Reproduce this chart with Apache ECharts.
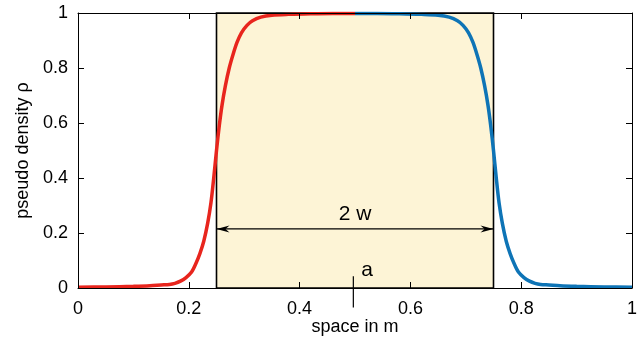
<!DOCTYPE html>
<html>
<head>
<meta charset="utf-8">
<script src="https://cdn.jsdelivr.net/npm/echarts@6/dist/echarts.min.js"></script>
<style>html,body{margin:0;padding:0;background:#fff}#c{width:637px;height:338px}</style>
</head>
<body>
<div id="c"></div>
<script>
// ---- data ----
var redX  = [0, 0.05, 0.1, 0.13, 0.15, 0.165, 0.175, 0.185, 0.195, 0.205, 0.213, 0.22, 0.227, 0.234, 0.24, 0.245, 0.25, 0.255, 0.26, 0.266, 0.273, 0.28, 0.287, 0.295, 0.305, 0.315, 0.33, 0.35, 0.38, 0.42, 0.46, 0.5];
var redY  = [0.003, 0.004, 0.006, 0.008, 0.011, 0.013, 0.017, 0.025, 0.038, 0.058, 0.09, 0.125, 0.17, 0.235, 0.31, 0.4, 0.5, 0.59, 0.665, 0.735, 0.8, 0.85, 0.893, 0.928, 0.955, 0.972, 0.985, 0.992, 0.995, 0.997, 0.998, 0.998];
var blueX = [0.5, 0.54, 0.58, 0.62, 0.65, 0.67, 0.685, 0.695, 0.705, 0.713, 0.72, 0.727, 0.734, 0.74, 0.745, 0.75, 0.755, 0.76, 0.766, 0.773, 0.78, 0.787, 0.795, 0.805, 0.815, 0.825, 0.835, 0.85, 0.87, 0.9, 0.95, 1];
var blueY = [0.998, 0.998, 0.997, 0.995, 0.992, 0.985, 0.972, 0.955, 0.928, 0.893, 0.85, 0.8, 0.735, 0.665, 0.59, 0.5, 0.4, 0.31, 0.235, 0.17, 0.125, 0.09, 0.058, 0.038, 0.025, 0.017, 0.013, 0.011, 0.008, 0.006, 0.004, 0.003];
var boxRange   = [0.25, 0.75];      // x extent of the shaded region
var boxHeight  = [0, 1];            // y extent of the shaded region
var arrowLevel = 0.215;             // y of the "2 w" arrow
var arrowLabel = '2 w';
var arrowLabelY = 0.268;
var markerX    = 0.497;             // position of "a"
var markerSpan = [0.043, -0.071];
var markerLabel = 'a';
var markerLabelY = 0.064;
var xTicks = [0, 0.2, 0.4, 0.6, 0.8, 1];
var yTicks = [0, 0.2, 0.4, 0.6, 0.8, 1];
var xName = 'space in m';
var yName = 'pseudo density \u03c1';

function zip(a, b) { return a.map(function (v, i) { return [v, b[i]]; }); }

var FONT = '"Liberation Sans", Arial, Helvetica, sans-serif';
var chart = echarts.init(document.getElementById('c'), null, {renderer: 'canvas'});

function axisCommon(extra) {
  var o = {
    type: 'value', min: 0, max: 1, interval: 0.2, z: 10,
    axisLine: {show: true, onZero: false, lineStyle: {color: '#000', width: 1}},
    axisTick: {show: true, inside: true, length: 6, lineStyle: {color: '#000', width: 1}},
    splitLine: {show: false},
    axisLabel: {show: false}
  };
  for (var k in extra) o[k] = extra[k];
  return o;
}

chart.setOption({
  animation: false,
  backgroundColor: '#fff',
  textStyle: {fontFamily: FONT},
  grid: {left: 78, right: 5, top: 13, bottom: 50, containLabel: false, outerBoundsMode: 'none'},
  xAxis: [
    axisCommon({position: 'bottom', name: xName, nameLocation: 'middle', nameGap: 30, nameMoveOverlap: false,
      nameTextStyle: {fontSize: 18, color: '#000', fontFamily: FONT},
      axisLabel: {show: true, margin: 12, fontSize: 18, color: '#000', fontFamily: FONT,
        formatter: function (v) { var i = xTicks.indexOf(Math.round(v * 10) / 10); return i >= 0 ? String(xTicks[i]) : ''; }}}),
    axisCommon({position: 'top'})
  ],
  yAxis: [
    axisCommon({position: 'left', name: yName, nameLocation: 'middle', nameGap: 46, nameMoveOverlap: false,
      nameTextStyle: {fontSize: 18, color: '#000', fontFamily: FONT},
      axisLabel: {show: true, margin: 10, fontSize: 18, color: '#000', fontFamily: FONT,
        formatter: function (v) { var i = yTicks.indexOf(Math.round(v * 10) / 10); return i >= 0 ? String(yTicks[i]) : ''; }}}),
    axisCommon({position: 'right'})
  ],
  series: [
    {
      type: 'custom', z: 1, silent: true,
      data: [[boxRange[0], boxHeight[0], boxRange[1], boxHeight[1]]],
      renderItem: function (params, api) {
        var p0 = api.coord([api.value(0), api.value(3)]);
        var p1 = api.coord([api.value(2), api.value(1)]);
        return {type: 'rect', shape: {x: p0[0], y: p0[1], width: p1[0] - p0[0], height: p1[1] - p0[1]},
          style: {fill: '#fdf4d6', stroke: '#000', lineWidth: 1.6}};
      }
    },
    {
      type: 'line', z: 5, data: zip(redX, redY), showSymbol: false, smooth: 0.3,
      lineStyle: {color: '#e8251d', width: 3.5}, itemStyle: {color: '#e8251d'}
    },
    {
      type: 'line', z: 5, data: zip(blueX, blueY), showSymbol: false, smooth: 0.3,
      lineStyle: {color: '#0e74b6', width: 3.5}, itemStyle: {color: '#0e74b6'}
    },
    {
      type: 'custom', z: 6, silent: true, clip: false,
      data: [[boxRange[0], boxRange[1], arrowLevel]],
      renderItem: function (params, api) {
        var a = api.coord([api.value(0), api.value(2)]);
        var b = api.coord([api.value(1), api.value(2)]);
        var L = 13, H = 3.5, N = 9;
        return {type: 'group', children: [
          {type: 'line', shape: {x1: a[0], y1: a[1], x2: b[0], y2: b[1]}, style: {stroke: '#000', lineWidth: 1.2}},
          {type: 'polygon', shape: {points: [[a[0], a[1]], [a[0] + L, a[1] - H], [a[0] + N, a[1]], [a[0] + L, a[1] + H]]}, style: {fill: '#000'}},
          {type: 'polygon', shape: {points: [[b[0], b[1]], [b[0] - L, b[1] - H], [b[0] - N, b[1]], [b[0] - L, b[1] + H]]}, style: {fill: '#000'}}
        ]};
      }
    },
    {
      type: 'custom', z: 6, silent: true, clip: false,
      data: [[markerX, markerSpan[0], markerSpan[1]]],
      renderItem: function (params, api) {
        var t = api.coord([api.value(0), api.value(1)]);
        var b = api.coord([api.value(0), api.value(2)]);
        return {type: 'line', shape: {x1: t[0], y1: t[1], x2: b[0], y2: b[1]}, style: {stroke: '#000', lineWidth: 1.2}};
      }
    },
    {
      type: 'custom', z: 7, silent: true, clip: false,
      data: [[(boxRange[0] + boxRange[1]) / 2, arrowLabelY, 0], [markerX + 0.025, markerLabelY, 1]],
      renderItem: function (params, api) {
        var p = api.coord([api.value(0), api.value(1)]);
        var txt = api.value(2) === 0 ? arrowLabel : markerLabel;
        return {type: 'text', x: p[0], y: p[1], style: {text: txt, fill: '#000', fontSize: 21, fontFamily: FONT, align: 'center', verticalAlign: 'middle'}};
      }
    }
  ]
});
</script>
</body>
</html>
